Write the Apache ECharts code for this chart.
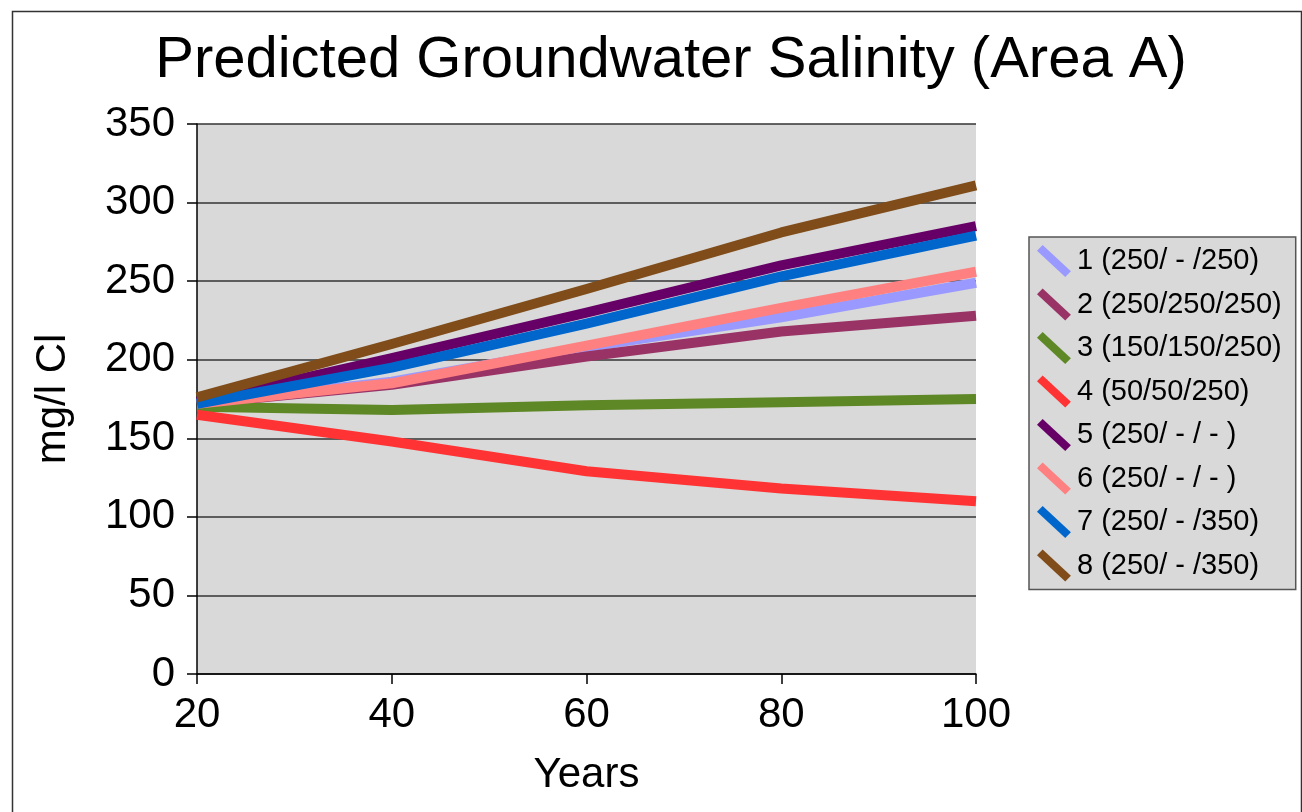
<!DOCTYPE html>
<html>
<head>
<meta charset="utf-8">
<script src="https://cdn.jsdelivr.net/npm/echarts@6/dist/echarts.min.js"></script>
<style>
html,body{margin:0;padding:0;background:#fff;}
#chart{width:1302px;height:812px;}
</style>
</head>
<body>
<div id="chart"></div>
<script>
const years = [20, 40, 60, 80, 100];
const seriesNames = ['1 (250/ - /250)', '2 (250/250/250)', '3 (150/150/250)', '4 (50/50/250)', '5 (250/ - / - )', '6 (250/ - / - )', '7 (250/ - /350)', '8 (250/ - /350)'];
const s1 = [172, 186, 208, 227, 249];
const s2 = [172, 184, 202, 218, 228];
const s3 = [170, 168, 171, 173, 175];
const s4 = [165, 148, 129, 118, 110];
const s5 = [173, 201, 230, 260, 285];
const s6 = [172, 185, 209, 233, 256];
const s7 = [172, 195, 223, 253, 279];
const s8 = [176, 210, 245, 281, 311];
const seriesValues = [s1, s2, s3, s4, s5, s6, s7, s8];
const colors = ['#9999ff', '#993366', '#5e8726', '#ff3333', '#660066', '#ff8080', '#0066cc', '#7f4c1a'];

const chart = echarts.init(document.getElementById('chart'), null, {renderer: 'canvas'});
const font = 'Liberation Sans, Arial, sans-serif';
const option = {
  backgroundColor: '#ffffff',
  animation: false,
  title: {
    text: 'Predicted Groundwater Salinity (Area A)',
    left: 666, top: 27, textAlign: 'center',
    textStyle: {fontFamily: font, fontSize: 58, fontWeight: 'normal', color: '#000'}
  },
  graphic: [{
    type: 'rect', left: 10, top: 9, z: -10,
    shape: {width: 1289, height: 830},
    style: {fill: 'none', stroke: '#333', lineWidth: 1.5}
  }],
  grid: {left: 197, right: 326, top: 124, bottom: 138, show: true, backgroundColor: '#d9d9d9', borderWidth: 0},
  legend: {
    orient: 'vertical', left: 1029, top: 237,
    backgroundColor: '#d9d9d9', borderColor: '#555', borderWidth: 1.5,
    padding: [8, 14, 8, 8],
    itemWidth: 36, itemHeight: 32, itemGap: 11.5,
    icon: 'path://M0,6 L6,0 L36,28 L30,34 Z',
    textStyle: {fontFamily: font, fontSize: 29, color: '#000', padding: [0, 0, 0, 0]},
    data: seriesNames
  },
  xAxis: {
    type: 'value', min: 20, max: 100, interval: 20,
    name: 'Years', nameLocation: 'middle', nameGap: 80,
    nameTextStyle: {fontFamily: font, fontSize: 42, color: '#000'},
    axisLine: {show: true, lineStyle: {color: '#000', width: 1.5}},
    axisTick: {show: true, length: 10, lineStyle: {color: '#000', width: 1.5}},
    axisLabel: {fontFamily: font, fontSize: 42, color: '#000', margin: 20},
    splitLine: {show: false}
  },
  yAxis: {
    type: 'value', min: 0, max: 350, interval: 50,
    name: 'mg/l Cl', nameLocation: 'middle', nameGap: 123,
    nameTextStyle: {fontFamily: font, fontSize: 42, color: '#000'},
    axisLine: {show: true, lineStyle: {color: '#000', width: 1.5}},
    axisTick: {show: true, length: 10, lineStyle: {color: '#000', width: 1.5}},
    axisLabel: {fontFamily: font, fontSize: 42, color: '#000', margin: 22},
    splitLine: {show: true, lineStyle: {color: '#333', width: 1.5}}
  },
  series: seriesNames.map((n, i) => ({
    name: n, type: 'line',
    data: years.map((y, j) => [y, seriesValues[i][j]]),
    showSymbol: false, symbol: 'none',
    color: colors[i],
    lineStyle: {width: 10, color: colors[i], cap: 'butt', join: 'round'},
    emphasis: {disabled: true}
  }))
};
chart.setOption(option);
</script>
</body>
</html>
